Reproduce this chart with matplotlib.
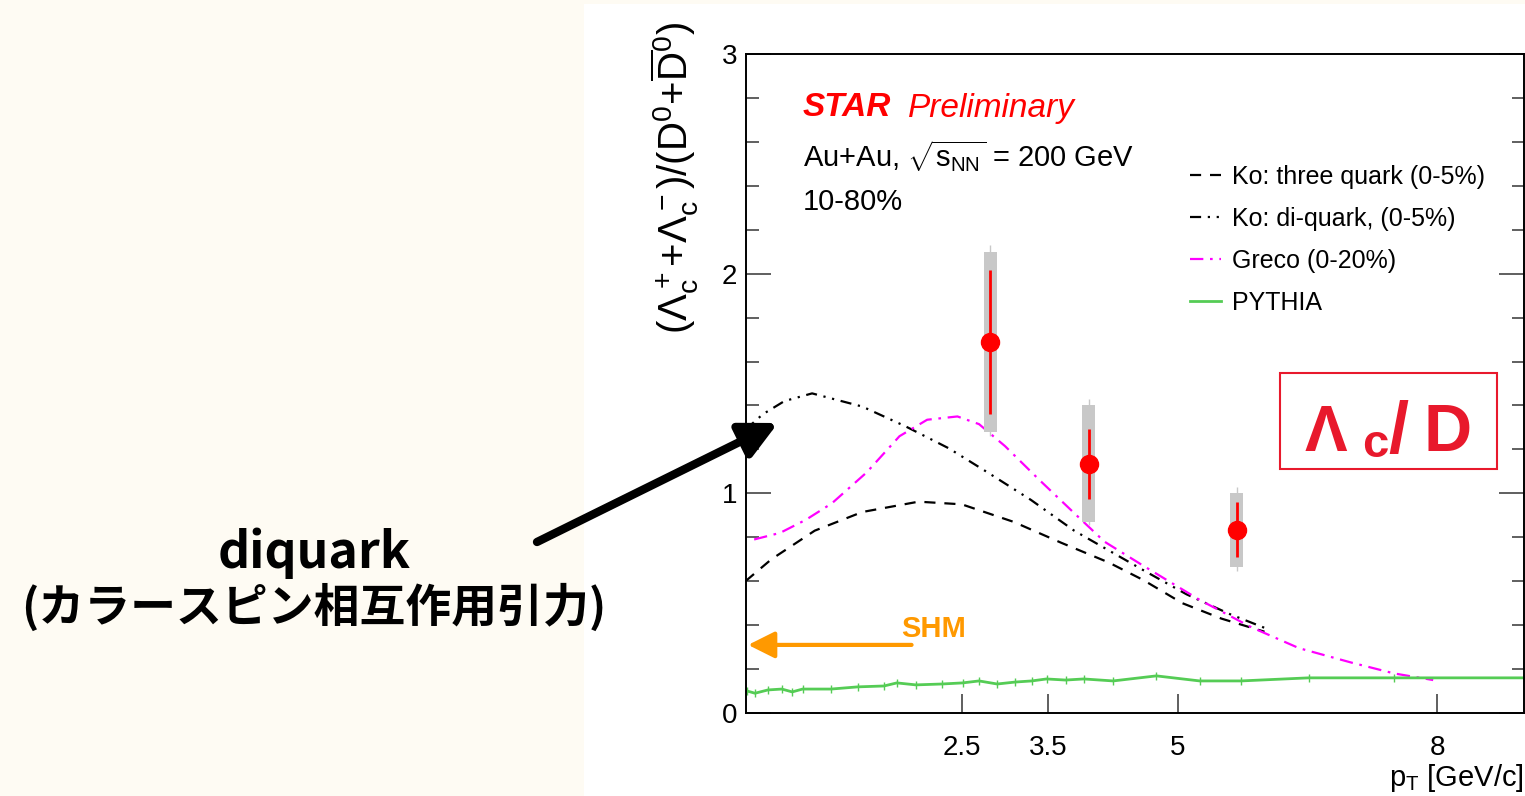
import numpy as np
import matplotlib.pyplot as plt
from matplotlib.lines import Line2D
from matplotlib.patches import Rectangle

plt.rcParams['font.family'] = ['Liberation Sans', 'DejaVu Sans']
plt.rcParams['mathtext.fontset'] = 'custom'
plt.rcParams['mathtext.rm'] = 'Liberation Sans'
plt.rcParams['mathtext.it'] = 'Liberation Sans:italic'
plt.rcParams['mathtext.bf'] = 'Liberation Sans:bold'

# STAR data points (Lambda_c / D0)
pt = [2.83, 3.97, 5.68]
ratio = [1.69, 1.135, 0.835]
stat_hi = [2.015, 1.295, 0.962]
stat_lo = [1.363, 0.976, 0.711]
sys_hi = [2.10, 1.40, 1.003]
sys_lo = [1.277, 0.871, 0.666]
tot_hi = [2.13, 1.43, 1.03]
tot_lo = [1.26, 0.855, 0.645]

# model curves
ko3_x = [0, 0.3, 0.8, 1.35, 2.0, 2.5, 3.1, 3.65, 4.2, 4.6, 5.05, 5.5, 6.0]
ko3_y = [0.60, 0.70, 0.83, 0.915, 0.962, 0.95, 0.87, 0.775, 0.685, 0.605, 0.50, 0.43, 0.37]

kodi_x = [0, 0.2, 0.45, 0.77, 1.35, 1.85, 2.35, 2.8, 3.3, 3.8, 4.2, 4.6, 5.1, 5.6, 6.05]
kodi_y = [1.29, 1.36, 1.42, 1.455, 1.395, 1.305, 1.205, 1.095, 0.97, 0.83, 0.74, 0.65, 0.54, 0.45, 0.38]

greco_x = [0.1, 0.4, 0.7, 1.0, 1.4, 1.78, 2.1, 2.45, 2.7, 3.0, 3.4, 3.8, 4.15, 4.6, 5.25,
           5.85, 6.4, 7.0, 7.5, 7.95]
greco_y = [0.79, 0.82, 0.88, 0.955, 1.095, 1.26, 1.335, 1.35, 1.315, 1.215, 1.06, 0.91, 0.78,
           0.67, 0.515, 0.39, 0.295, 0.23, 0.18, 0.15]

pythia_x = [0.02, 0.11, 0.26, 0.42, 0.54, 0.66, 0.99, 1.30, 1.60, 1.75, 1.97, 2.27, 2.51, 2.70,
            2.91, 3.12, 3.31, 3.48, 3.70, 3.91, 4.25, 4.75, 5.25, 5.73, 6.51, 7.50, 9.0]
pythia_y = [0.10, 0.09, 0.105, 0.109, 0.096, 0.109, 0.109, 0.119, 0.123, 0.137, 0.128, 0.132,
            0.137, 0.146, 0.132, 0.141, 0.146, 0.155, 0.150, 0.155, 0.146, 0.169, 0.146, 0.146,
            0.16, 0.16, 0.16]

shm = 0.31
xticks = [2.5, 3.5, 5, 8]

W, H = 1525, 796
fig = plt.figure(figsize=(W / 100, H / 100), dpi=100, facecolor='#fefbf3')
fig.add_artist(Rectangle((584 / W, 0), 1 - 584 / W, (H - 4) / H, transform=fig.transFigure,
                         facecolor='white', edgecolor='none', zorder=0))

ax = fig.add_axes([745.5 / W, 83 / H, 778.5 / W, 659 / H])
ax.set_xlim(0, 9)
ax.set_ylim(0, 3)
ax.patch.set_alpha(0)

# curves
ax.plot(ko3_x, ko3_y, color='black', lw=1.6, ls=(0, (5, 4)))
ax.plot(kodi_x, kodi_y, color='black', lw=1.6, ls=(0, (5, 3, 1, 3, 1, 3)))
ax.plot(greco_x, greco_y, color='#ff00ff', lw=1.6, ls=(0, (6, 3, 1.2, 3)))
ax.plot(pythia_x, pythia_y, color='#55cc55', lw=2, marker='|', ms=6, mew=1)

# data with systematic boxes
ax.vlines(pt, tot_lo, tot_hi, color='#c8c8c8', lw=1)
ax.bar(pt, np.array(sys_hi) - np.array(sys_lo), bottom=sys_lo, width=0.15,
       color='#c8c8c8', zorder=3)
ax.vlines(pt, stat_lo, stat_hi, color='red', lw=2, zorder=4)
ax.plot(pt, ratio, 'o', color='red', ms=13, zorder=5)

# SHM arrow
ax.annotate('', xy=(0.03, shm), xytext=(1.92, shm),
            arrowprops=dict(arrowstyle='-|>,head_length=0.9,head_width=0.45',
                            color='#ff9900', lw=3, mutation_scale=18, shrinkA=0, shrinkB=0))
ax.text(2.17, shm + 0.01, 'SHM', color='#ff9900', fontsize=21, fontweight='bold',
        ha='center', va='bottom')

# axes styling
ax.set_yticks([0, 1, 2, 3])
ax.set_yticks(np.arange(0, 3.01, 0.2), minor=True)
ax.set_xticks(xticks)
ax.set_xticklabels(['2.5', '3.5', '5', '8'])
ax.tick_params(axis='y', which='major', direction='in', length=18, width=1.2, color='#444444',
               labelsize=20, pad=6, right=True)
ax.tick_params(axis='y', which='minor', direction='in', length=9, width=1.2, color='#444444',
               right=True)
ax.tick_params(axis='x', which='major', direction='in', length=14, width=1.2, color='#444444',
               labelsize=20, pad=16)
for s in ax.spines.values():
    s.set_linewidth(1.4)

fig.text(675 / W, 1 - 178 / H,
         r'$\mathrm{(\Lambda_c^+{+}\Lambda_c^-)/(D^0{+}\overline{D}^0)}$',
         rotation=90, fontsize=29, ha='center', va='center')
fig.text(1524 / W, 1 - 778 / H, r'$\mathrm{p_T}$ [GeV/c]', fontsize=21, ha='right',
         va='center')

# labels inside plot
fig.text(803 / W, 1 - 108 / H, 'STAR', color='red', fontsize=24, fontweight='bold',
         style='italic', va='center')
fig.text(908 / W, 1 - 108 / H, 'Preliminary', color='red', fontsize=24, style='italic',
         va='center')
fig.text(803 / W, 1 - 156 / H, r'Au+Au, $\sqrt{\mathrm{s_{NN}}}$ = 200 GeV', fontsize=21,
         va='center')
fig.text(803 / W, 1 - 202 / H, '10-80%', fontsize=21, va='center')

handles = [
    Line2D([], [], color='black', lw=1.6, ls=(0, (5, 4))),
    Line2D([], [], color='black', lw=1.6, ls=(0, (5, 3, 1, 3, 1, 3))),
    Line2D([], [], color='#ff00ff', lw=1.6, ls=(0, (6, 3, 1.2, 3))),
    Line2D([], [], color='#55cc55', lw=2),
]
labels = ['Ko: three quark (0-5%)', 'Ko: di-quark, (0-5%)', 'Greco (0-20%)', 'PYTHIA']
fig.legend(handles, labels, loc='upper left', bbox_to_anchor=(1190 / W, 1 - 165 / H),
           frameon=False, fontsize=18, handlelength=1.25, handletextpad=0.45,
           labelspacing=0.72, borderpad=0, borderaxespad=0)

# Lambda_c / D box
red = '#e8192c'
fig.add_artist(Rectangle((1280 / W, 1 - 469 / H), 217 / W, 96 / H, transform=fig.transFigure,
                         facecolor='none', edgecolor=red, lw=1.5))
fig.text(1305 / W, 1 - 451 / H, 'Λ', color=red, fontsize=46, fontweight='bold', va='baseline')
fig.text(1362 / W, 1 - 457 / H, 'c', color=red, fontsize=34, fontweight='bold', va='baseline')
fig.text(1388 / W, 1 - 453 / H, '/', color=red, fontsize=52, fontweight='bold', va='baseline')
fig.text(1424 / W, 1 - 451 / H, 'D', color=red, fontsize=48, fontweight='bold', va='baseline')

# diquark annotation
fig.text(314 / W, 1 - 553 / H, 'diquark', fontsize=36, fontweight='bold', ha='center',
         va='center', family=['Noto Sans CJK JP', 'DejaVu Sans'])
fig.text(314 / W, 1 - 608 / H, '(カラースピン相互作用引力)', fontsize=33, fontweight='bold',
         ha='center', va='center', family=['Noto Sans CJK JP', 'DejaVu Sans'])
ax.annotate('', xy=(778, H - 423), xycoords='figure pixels', xytext=(537, H - 542),
            textcoords='figure pixels', annotation_clip=False,
            arrowprops=dict(arrowstyle='-|>,head_length=1.0,head_width=0.5', color='black',
                            lw=6, mutation_scale=22, shrinkA=0, shrinkB=0))

fig.savefig('out.png', dpi=100, facecolor=fig.get_facecolor())
